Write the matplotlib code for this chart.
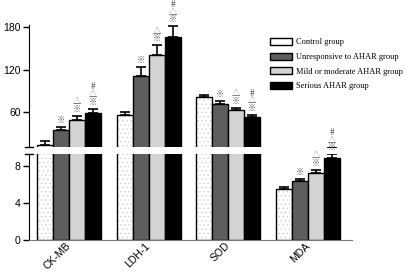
import matplotlib
matplotlib.use("Agg")
import matplotlib.pyplot as plt
from matplotlib.patches import Patch

plt.rcParams['font.family'] = ['Liberation Sans', 'DejaVu Sans']
plt.rcParams['hatch.linewidth'] = 0.4

# data
markers = ["CK-MB", "LDH-1", "SOD", "MDA"]
groups = ["Control group", "Unresponsive to AHAR group",
          "Mild or moderate AHAR group", "Serious AHAR group"]
control = [13.0, 55.3, 81.5, 5.48]
control_err = [6.0, 4.7, 2.5, 0.28]
unresp = [34.7, 110.2, 71.7, 6.37]
unresp_err = [4.8, 13.5, 3.8, 0.22]
mild = [48.8, 140.0, 62.4, 7.27]
mild_err = [5.5, 14.0, 3.2, 0.33]
serious = [59.0, 165.9, 52.5, 8.89]
serious_err = [6.0, 15.2, 3.7, 0.36]
signs = ["", "\u203b", "\u25b3\n\u203b", "#\n\u25b3\n\u203b"]

values = [control, unresp, mild, serious]
errors = [control_err, unresp_err, mild_err, serious_err]
colors = ["white", "#5e5e5e", "#d3d3d3", "black"]

fig = plt.figure(figsize=(4.06, 2.72), dpi=100)
left, right = 29 / 406, 352 / 406
ax_top = fig.add_axes([left, 1 - 147 / 272, right - left, 122 / 272])
ax_bot = fig.add_axes([left, 1 - 240 / 272, right - left, 86 / 272])

centers = [0, 5, 10, 15]
lower_lim = 9.3

for ax in (ax_top, ax_bot):
    for j in range(4):
        xs = [c + j - 1.5 for c in centers]
        if j == 0:
            ax.bar(xs, values[j], width=1.0, color="white", edgecolor="#c8c8c8",
                   hatch="....", linewidth=0, zorder=2)
            ax.bar(xs, values[j], width=1.0, color="none", edgecolor="black",
                   linewidth=1.0, zorder=3)
        else:
            ax.bar(xs, values[j], width=1.0, color=colors[j], edgecolor="black",
                   linewidth=1.0, zorder=3)
        ax.errorbar(xs, values[j], yerr=[[0] * 4, errors[j]], fmt="none",
                    ecolor="black", elinewidth=1.2, capsize=3.3, capthick=1.2,
                    zorder=4)
    ax.set_xlim(-2.5, 17.75)
    ax.spines[["top", "right"]].set_visible(False)
    ax.tick_params(axis="y", direction="out", length=4, width=1, pad=2,
                   labelsize=7.5)

# significance marks, stacked above the error bar
for j in range(1, 4):
    for i, c in enumerate(centers):
        top = values[j][i] + errors[j][i]
        ax = ax_bot if top < lower_lim else ax_top
        ax.annotate(signs[j], (c + j - 1.5, top), xytext=(0, 1.5),
                    textcoords="offset points", ha="center", va="bottom",
                    fontsize=6, linespacing=0.8, color="#5a5a5a",
                    family=["Noto Sans CJK SC", "DejaVu Sans"],
                    annotation_clip=False, zorder=5)

ax_top.set_ylim(10.8, 182.8)
ax_top.set_yticks([60, 120, 180])
ax_top.spines["bottom"].set_visible(False)
ax_top.set_xticks([])

ax_bot.set_ylim(0, lower_lim)
ax_bot.set_yticks([0, 4, 8])
ax_bot.spines["bottom"].set_color("#777777")
ax_bot.set_xticks(centers)
ax_bot.set_xticklabels(markers, rotation=45, ha="right", va="center",
                       rotation_mode="anchor", fontsize=7.5)
ax_bot.tick_params(axis="x", length=0, pad=3)

# break marks on the y axis
ax_top.plot([-0.012, 0.012], [0, 0], transform=ax_top.transAxes,
            color="black", lw=1, clip_on=False)
ax_bot.plot([-0.012, 0.012], [1, 1], transform=ax_bot.transAxes,
            color="black", lw=1, clip_on=False)

handles = []
for j in range(4):
    handles.append(Patch(facecolor=colors[j], edgecolor="black", linewidth=1))
fig.legend(handles, groups, loc="upper left", bbox_to_anchor=(270 / 406, 1 - 38 / 272),
           frameon=False, prop={"family": "Liberation Serif", "size": 6},
           handlelength=2.6, handleheight=0.9, handletextpad=0.5,
           labelspacing=0.75, borderaxespad=0, borderpad=0)

fig.savefig("out.png", dpi=100)
